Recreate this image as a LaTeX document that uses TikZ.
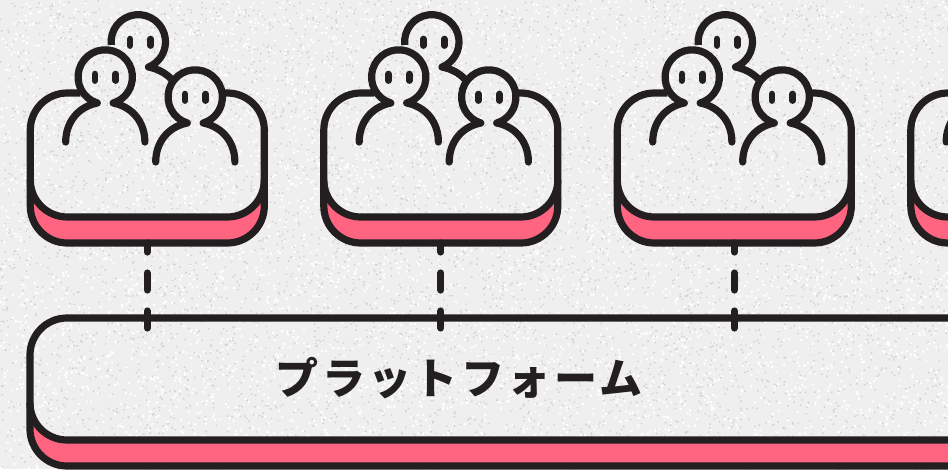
\documentclass[tikz,border=0pt]{standalone}
\usepackage{fontspec}
\newfontfamily\cjk[LetterSpace=8]{Noto Sans CJK JP}
\definecolor{ink}{HTML}{231F20}
\definecolor{rosefill}{HTML}{FF6480}
\definecolor{paper}{HTML}{EFEFEF}
\definecolor{speckdark}{HTML}{CFCFCF}
\tikzset{
  ink line/.style={draw=ink,line width=7.2pt,line cap=round,line join=round},
  flat line/.style={draw=ink,line width=7.2pt,line cap=butt,line join=round},
  link line/.style={draw=ink,line width=7.2pt,line cap=round,dash pattern=on 17pt off 21pt},
  eye line/.style={draw=ink,line width=6.6pt,line cap=round},
}
\newcommand{\eyes}[2]{%
  \draw[eye line] (#1-10.4,#2-3) -- ++(0,6.6);
  \draw[eye line] (#1+10.4,#2-3) -- ++(0,6.6);
}
\newcommand{\person}[2]{%
  \draw[ink line] (#1-39.6,#2+65) .. controls (#1-39.6,#2+46) and (#1-28,#2+30) .. (#1-8,#2+26)
    arc[start angle=107,end angle=433,radius=27.2]
    .. controls (#1+28,#2+30) and (#1+39.6,#2+46) .. (#1+39.6,#2+65);
  \eyes{#1}{#2}
}
\begin{document}
\begin{tikzpicture}[x=1pt,y=1pt,yscale=-1]
\useasboundingbox (0,0) rectangle (948,469);
\clip (0,0) rectangle (948,469);
\fill[paper] (0,0) rectangle (948,469);
\pgfmathsetseed{7}
\foreach \j in {1,...,60}{
  \fill[speckdark] \foreach \k in {1,...,100}{
    ({rnd*948},{rnd*469}) rectangle ++(1.4,1.4)};
  \fill[white] \foreach \k in {1,...,100}{
    ({rnd*948},{rnd*469}) rectangle ++(2,2)};
}
% platform
\coordinate (platform) at (30,318);
\fill[rosefill] (30,403) arc[start angle=180,end angle=90,radius=37] -- (960,440) -- (960,466) -- (67,466)
  arc[start angle=90,end angle=180,radius=37] -- cycle;
\draw[flat line] (960,318) -- (67,318) arc[start angle=270,end angle=180,radius=37]
  -- (30,429) arc[start angle=180,end angle=90,radius=37] -- (960,466);
\draw[flat line] (30,403) arc[start angle=180,end angle=90,radius=37] -- (960,440);
\node[text=ink,inner sep=0pt,font=\cjk\bfseries\fontsize{43}{43}\selectfont] (platformlabel) at (459,378) {プラットフォーム};
% groups
\foreach \i/\s in {1/0.3,2/293.8,3/587.3,4/880.8}{
\begin{scope}[xshift=\s pt]
  \coordinate (card\i) at (147,243);
  \coordinate (port\i) at (147,328);
  \fill[rosefill] (30,180) arc[start angle=180,end angle=90,radius=37] -- (227,217)
    arc[start angle=90,end angle=0,radius=37] -- (264,206) arc[start angle=0,end angle=90,radius=37]
    -- (67,243) arc[start angle=90,end angle=180,radius=37] -- cycle;
  \draw[flat line] (80,93) -- (67,93) arc[start angle=270,end angle=180,radius=37] -- (30,206)
    arc[start angle=180,end angle=90,radius=37] -- (227,243) arc[start angle=90,end angle=0,radius=37]
    -- (264,130) arc[start angle=0,end angle=-90,radius=37] -- (224,93);
  \draw[flat line] (30,180) arc[start angle=180,end angle=90,radius=37] -- (227,217)
    arc[start angle=90,end angle=0,radius=37];
  \draw[link line] (port\i) -- (card\i);
  % back person
  \draw[flat line] (111,45) arc[start angle=-186.7,end angle=68,radius=27.2]
    .. controls (158,69) and (165,73) .. (171,79);
  \eyes{140}{42}
  % front persons
  \person{105}{77}
  \person{195}{97}
\end{scope}}
\end{tikzpicture}
\end{document}
